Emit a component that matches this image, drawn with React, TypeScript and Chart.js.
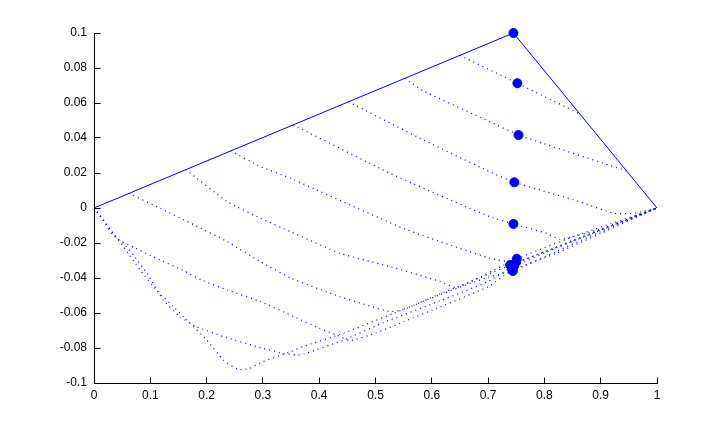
import { useEffect, useRef } from "react";
import { Chart, registerables } from "chart.js";

Chart.register(...registerables);

// Tick values
const xTicks = [0, 0.1, 0.2, 0.3, 0.4, 0.5, 0.6, 0.7, 0.8, 0.9, 1];
const yTicks = [-0.1, -0.08, -0.06, -0.04, -0.02, 0, 0.02, 0.04, 0.06, 0.08, 0.1];

// Solid boundary
const edgeX = [0, 0.745, 1];
const edgeY = [0, 0.1, 0];

// Dotted trajectories starting on the upper edge
const l7X = [0.65, 0.752, 0.863];
const l7Y = [0.0872, 0.0713, 0.0537];

const l6X = [0.552, 0.585, 0.703, 0.754, 0.946];
const l6Y = [0.0741, 0.0669, 0.0493, 0.0417, 0.0212];

const l4X = [0.452, 0.585, 0.703, 0.7466, 0.863, 0.922, 0.96, 1];
const l4Y = [0.0607, 0.0389, 0.0207, 0.0147, 0.0036, -0.003, -0.003, 0];

const l5X = [0.354, 0.526, 0.703, 0.745, 0.804, 0.828, 0.9, 1];
const l5Y = [0.0475, 0.0198, -0.005, -0.0091, -0.0145, -0.0179, -0.012, 0];

const l1X = [0.243, 0.296, 0.349, 0.549, 0.703, 0.7496, 0.85, 1];
const l1Y = [0.0326, 0.0236, 0.017, -0.0116, -0.0287, -0.0309, -0.0185, 0];

const l2X = [0.163, 0.237, 0.296, 0.349, 0.437, 0.526, 0.615, 0.645, 0.751, 0.85, 1];
const l2Y = [0.0219, 0.0036, -0.0059, -0.0135, -0.0259, -0.0335, -0.042, -0.0455, -0.029, -0.0165, 0];

const l3X = [0.062, 0.118, 0.178, 0.237, 0.296, 0.349, 0.437, 0.49, 0.526, 0.55, 0.615, 0.7, 0.739, 0.85, 1];
const l3Y = [0.0083, -0.0002, -0.0097, -0.0193, -0.0307, -0.04, -0.0507, -0.056, -0.0592, -0.058, -0.049, -0.038, -0.0326, -0.019, 0];

// Dotted trajectories starting at the origin
const pX = [0, 0.009, 0.0166, 0.037, 0.052, 0.082, 0.111, 0.141, 0.171, 0.2, 0.23, 0.255, 0.275, 0.3, 0.35, 0.371, 0.443, 0.532, 0.615, 0.7, 0.744, 0.82, 0.9, 1];
const pY = [0, -0.0034, -0.0069, -0.0154, -0.022, -0.0354, -0.0469, -0.0564, -0.0659, -0.0754, -0.0869, -0.0922, -0.0918, -0.0878, -0.082, -0.0792, -0.0716, -0.0602, -0.0495, -0.0395, -0.036, -0.025, -0.0135, 0];

const qX = [0, 0.0148, 0.0326, 0.052, 0.07, 0.094, 0.123, 0.153, 0.182, 0.23, 0.289, 0.336, 0.36, 0.373, 0.443, 0.514, 0.615, 0.7, 0.746, 0.82, 0.9, 1];
const qY = [0, -0.0065, -0.015, -0.0202, -0.0269, -0.0373, -0.0526, -0.0621, -0.0678, -0.0735, -0.0792, -0.083, -0.084, -0.0834, -0.0755, -0.0655, -0.053, -0.042, -0.0331, -0.023, -0.0125, 0];

const rX = [0, 0.0225, 0.0414, 0.071, 0.107, 0.159, 0.19, 0.237, 0.296, 0.355, 0.401, 0.431, 0.455, 0.5, 0.55, 0.615, 0.7, 0.743, 0.82, 0.9, 1];
const rY = [0, -0.0093, -0.0177, -0.0225, -0.0282, -0.0358, -0.041, -0.0469, -0.0535, -0.0621, -0.0688, -0.0726, -0.0758, -0.0715, -0.065, -0.0565, -0.045, -0.0355, -0.026, -0.0145, 0];

// Marker positions
const markerX = [0.745, 0.752, 0.754, 0.7466, 0.745, 0.7496, 0.751, 0.739, 0.746, 0.744, 0.743];
const markerY = [0.1, 0.0713, 0.0417, 0.0147, -0.0091, -0.0309, -0.029, -0.0326, -0.0331, -0.036, -0.0355];

const BLUE = "#0000ff";
const FONT = { family: "'Liberation Sans', Arial, sans-serif", size: 12 };

const toPts = (xs: number[], ys: number[]) => xs.map((x, i) => ({ x, y: ys[i] }));

const dottedSeries: [number[], number[]][] = [
  [l7X, l7Y],
  [l6X, l6Y],
  [l4X, l4Y],
  [l5X, l5Y],
  [l1X, l1Y],
  [l2X, l2Y],
  [l3X, l3Y],
  [pX, pY],
  [qX, qY],
  [rX, rY],
];

const fmt = (v: number) => {
  const n = Number(Number(v).toFixed(2));
  return n === 0 ? "0" : String(n);
};

export default function App() {
  const ref = useRef<HTMLCanvasElement>(null);

  useEffect(() => {
    if (!ref.current) return;

    const axesPlugin = {
      id: "matlabAxes",
      afterDraw(chart: any) {
        const { ctx, chartArea } = chart;
        const xs = chart.scales.x;
        const ys = chart.scales.y;
        const L = Math.floor(chartArea.left) + 0.5;
        const B = Math.floor(chartArea.bottom) + 0.5;
        const T = Math.floor(chartArea.top) + 0.5;
        const R = Math.floor(chartArea.right) + 0.5;
        ctx.save();
        ctx.strokeStyle = "#000";
        ctx.lineWidth = 1;
        ctx.beginPath();
        ctx.moveTo(L, T - 0.5);
        ctx.lineTo(L, B);
        ctx.lineTo(R + 0.5, B);
        for (const v of yTicks) {
          const py = Math.floor(ys.getPixelForValue(v)) + 0.5;
          ctx.moveTo(L, py);
          ctx.lineTo(L + 6, py);
        }
        for (const v of xTicks) {
          const px = Math.floor(xs.getPixelForValue(v)) + 0.5;
          ctx.moveTo(px, B);
          ctx.lineTo(px, B - 6);
        }
        ctx.stroke();
        ctx.restore();
      },
    };

    const datasets: any[] = [
      {
        data: toPts(markerX, markerY),
        showLine: false,
        pointRadius: 4.5,
        pointBorderWidth: 1,
        pointBackgroundColor: BLUE,
        pointBorderColor: BLUE,
        clip: false,
        order: -1,
      },
      {
        data: toPts(edgeX, edgeY),
        showLine: true,
        borderColor: BLUE,
        borderWidth: 1,
        pointRadius: 0,
        tension: 0,
        clip: false,
        order: 1,
      },
      ...dottedSeries.map(([xs, ys]) => ({
        data: toPts(xs, ys),
        showLine: true,
        borderColor: BLUE,
        borderWidth: 1.2,
        borderDash: [1, 4],
        pointRadius: 0,
        tension: 0.15,
        order: 2,
      })),
    ];

    const chart = new Chart(ref.current, {
      type: "scatter",
      data: { datasets },
      options: {
        responsive: false,
        animation: false,
        devicePixelRatio: 1,
        layout: { padding: { left: 0, right: 69, top: 33, bottom: 0 } },
        plugins: {
          legend: { display: false },
          tooltip: { enabled: false },
        },
        scales: {
          x: {
            type: "linear",
            min: 0,
            max: 1,
            grid: { display: false, drawTicks: false },
            border: { display: false },
            ticks: {
              padding: 5,
              color: "#000",
              font: FONT,
              autoSkip: false,
              maxRotation: 0,
              callback: (v: any) => fmt(v),
            },
            afterBuildTicks: (s: any) => {
              s.ticks = xTicks.map((v) => ({ value: v }));
            },
            afterFit: (s: any) => {
              s.height = 50;
            },
          },
          y: {
            type: "linear",
            min: -0.1,
            max: 0.1,
            grid: { display: false, drawTicks: false },
            border: { display: false },
            ticks: {
              padding: 7,
              color: "#000",
              font: FONT,
              autoSkip: false,
              callback: (v: any) => fmt(v),
            },
            afterBuildTicks: (s: any) => {
              s.ticks = yTicks.map((v) => ({ value: v }));
            },
            afterFit: (s: any) => {
              s.width = 94;
            },
          },
        },
      },
      plugins: [axesPlugin],
    } as any);

    return () => chart.destroy();
  }, []);

  return (
    <div
      style={{
        position: "fixed",
        left: 0,
        top: 0,
        width: 726,
        height: 433,
        background: "#fff",
      }}
    >
      <canvas ref={ref} width={726} height={433} style={{ display: "block" }} />
    </div>
  );
}
